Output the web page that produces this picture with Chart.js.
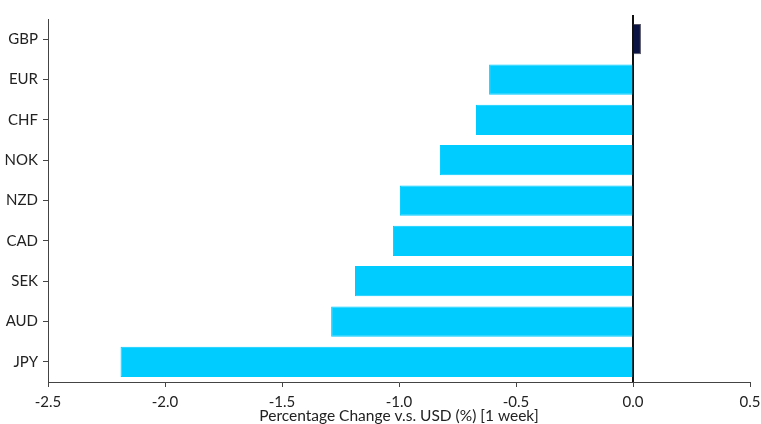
<!DOCTYPE html>
<html><head><meta charset="utf-8">
<script src="https://cdn.jsdelivr.net/npm/chart.js@4"></script>
<style>html,body{margin:0;padding:0;background:#fff;overflow:hidden}#wrap{position:relative;width:761px;height:424px}</style>
</head><body><div id="wrap"><canvas id="c" width="761" height="424"></canvas></div>
<script>
const categories = ["GBP","EUR","CHF","NOK","NZD","CAD","SEK","AUD","JPY"];
const values = [0.034,-0.615,-0.671,-0.825,-0.996,-1.026,-1.188,-1.29,-2.19];
const barColors = ["#0B1442","#00CCFF","#00CCFF","#00CCFF","#00CCFF","#00CCFF","#00CCFF","#00CCFF","#00CCFF"];
const xTitle = "Percentage Change v.s. USD (%) [1 week]";
const FONT = "Lato, 'Open Sans', sans-serif";

const zeroLine = {
  id:'zeroLine',
  beforeDatasetsDraw(chart){
    const x = chart.scales.x.getPixelForValue(0);
    const ctx = chart.ctx; ctx.save();
    ctx.strokeStyle='#111'; ctx.lineWidth=2;
    ctx.beginPath(); ctx.moveTo(Math.round(x),chart.chartArea.top-4); ctx.lineTo(Math.round(x),chart.chartArea.bottom); ctx.stroke();
    ctx.restore();
  }
};

new Chart(document.getElementById('c'), {
  type:'bar',
  data:{labels:categories, datasets:[{data:values, backgroundColor:barColors, borderColor:barColors.map(c=>c==="#00CCFF"?"#00CCFF":"#556"), borderWidth:1, barPercentage:0.75, categoryPercentage:1}]},
  options:{
    indexAxis:'y', responsive:false, animation:false, devicePixelRatio:1,
    layout:{padding:{top:19,right:11,left:0,bottom:0}},
    plugins:{legend:{display:false}, tooltip:{enabled:false}},
    scales:{
      x:{min:-2.5,max:0.5,
        ticks:{stepSize:0.5,color:'#222',font:{family:FONT,size:15},padding:6,maxRotation:0,callback:v=>Number(v).toFixed(1)},
        grid:{drawOnChartArea:false,drawTicks:true,tickLength:5,color:'#444'},
        border:{color:'#444',width:1},
        title:{display:true,text:xTitle,color:'#222',font:{family:FONT,size:15.5},padding:{top:0,bottom:-1}},
        afterFit(s){s.paddingLeft=0;s.paddingRight=0;s.height=42;}
      },
      y:{
        ticks:{color:'#222',font:{family:FONT,size:15},padding:5},
        grid:{drawOnChartArea:false,drawTicks:true,tickLength:5,color:'#444',offset:false},
        border:{color:'#444',width:1},
        afterFit(s){s.width=48;}
      }
    }
  },
  plugins:[zeroLine]
});
</script></body></html>
